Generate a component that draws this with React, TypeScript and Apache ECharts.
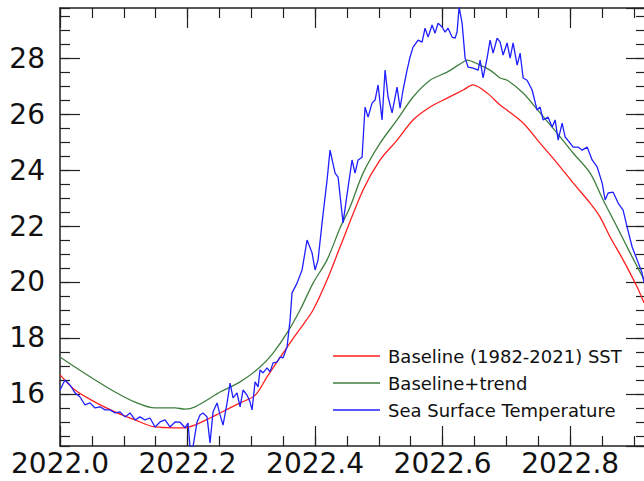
import React, { useEffect, useRef } from "react";
import * as echarts from "echarts";

// [decimal year, temperature °C]
const baselinePoints: [number, number][] = [
  [2022.0, 16.68], [2022.0235, 16.14], [2022.0549, 15.71], [2022.0863, 15.36],
  [2022.1176, 15.07], [2022.149, 14.82], [2022.1804, 14.79], [2022.1961, 14.79],
  [2022.2118, 14.89], [2022.2353, 15.14], [2022.251, 15.32], [2022.2824, 15.68],
  [2022.3059, 15.95], [2022.3247, 16.61], [2022.3498, 17.46], [2022.3718, 18.18],
  [2022.3969, 19.0], [2022.4188, 20.07], [2022.4392, 21.25], [2022.4753, 23.29],
  [2022.502, 24.36], [2022.5286, 25.07], [2022.5537, 25.79], [2022.5804, 26.25],
  [2022.6071, 26.57], [2022.6322, 26.86], [2022.6478, 27.04], [2022.6698, 26.75],
  [2022.6902, 26.32], [2022.7012, 26.14], [2022.7263, 25.68], [2022.7529, 24.96],
  [2022.7796, 24.25], [2022.8047, 23.54], [2022.8314, 22.82], [2022.8471, 22.32],
  [2022.8627, 21.61], [2022.8831, 20.79], [2022.9051, 19.82], [2022.9161, 19.25],
];

const trendPoints: [number, number][] = [
  [2022.0, 17.32], [2022.0235, 16.96], [2022.0549, 16.5], [2022.0863, 16.07],
  [2022.1176, 15.71], [2022.149, 15.5], [2022.1804, 15.5], [2022.1961, 15.46],
  [2022.2118, 15.54], [2022.2431, 15.96], [2022.251, 16.07], [2022.2824, 16.43],
  [2022.3137, 16.96], [2022.3341, 17.46], [2022.3561, 18.18], [2022.3765, 19.0],
  [2022.3969, 19.96], [2022.4188, 20.79], [2022.4392, 21.93], [2022.4549, 22.68],
  [2022.4753, 23.89], [2022.502, 24.96], [2022.5286, 25.79], [2022.5537, 26.61],
  [2022.5804, 27.21], [2022.6071, 27.5], [2022.6322, 27.86], [2022.6384, 27.93],
  [2022.6588, 27.75], [2022.6745, 27.57], [2022.6902, 27.29], [2022.7012, 27.21],
  [2022.7263, 26.75], [2022.7529, 26.04], [2022.7796, 25.32], [2022.8047, 24.61],
  [2022.8314, 23.89], [2022.8518, 22.93], [2022.8737, 21.96], [2022.8941, 21.04],
  [2022.9161, 20.07],
];

const sstPoints: [number, number][] = [
  [2022.0, 16.14], [2022.0078, 16.5], [2022.0157, 16.32], [2022.0235, 16.04],
  [2022.0314, 15.89], [2022.0392, 15.61], [2022.0471, 15.68], [2022.0549, 15.5],
  [2022.0627, 15.54], [2022.0706, 15.43], [2022.0784, 15.43], [2022.0863, 15.32],
  [2022.0941, 15.36], [2022.102, 15.18], [2022.1098, 15.32], [2022.1176, 15.07],
  [2022.1255, 15.18], [2022.1333, 15.07], [2022.1412, 15.14], [2022.149, 14.82],
  [2022.1569, 15.0], [2022.1647, 15.07], [2022.1725, 14.82], [2022.1804, 15.0],
  [2022.1882, 14.99], [2022.1961, 14.79], [2022.2008, 14.96], [2022.2039, 14.11],
  [2022.2086, 14.11], [2022.2149, 15.0], [2022.2196, 15.25], [2022.2243, 15.32],
  [2022.2306, 15.18], [2022.2353, 14.25], [2022.24, 15.36], [2022.2463, 15.68],
  [2022.251, 15.25], [2022.2557, 14.89], [2022.262, 15.68], [2022.2667, 16.39],
  [2022.2714, 15.86], [2022.2776, 16.04], [2022.2824, 15.54], [2022.2871, 16.14],
  [2022.2933, 15.96], [2022.298, 15.71], [2022.3012, 15.43], [2022.3059, 16.43],
  [2022.3106, 16.25], [2022.3137, 16.86], [2022.3184, 16.75], [2022.3247, 16.93],
  [2022.3294, 16.79], [2022.3341, 17.11], [2022.3404, 17.14], [2022.3451, 17.32],
  [2022.3498, 17.29], [2022.3561, 17.68], [2022.3608, 18.64], [2022.3639, 19.61],
  [2022.3718, 19.96], [2022.3796, 20.43], [2022.3875, 21.5], [2022.3953, 21.04],
  [2022.4, 20.43], [2022.4047, 20.79], [2022.411, 22.11], [2022.4188, 23.64],
  [2022.4235, 24.71], [2022.4314, 23.89], [2022.4361, 23.75], [2022.4439, 22.11],
  [2022.4518, 23.39], [2022.458, 24.36], [2022.4627, 23.89], [2022.4675, 24.36],
  [2022.4737, 24.46], [2022.4784, 26.25], [2022.4831, 25.89], [2022.4894, 26.39],
  [2022.4941, 26.5], [2022.4988, 27.04], [2022.5051, 25.79], [2022.5098, 27.57],
  [2022.5145, 26.61], [2022.5208, 26.04], [2022.5286, 26.96], [2022.5333, 26.21],
  [2022.538, 26.86], [2022.5443, 27.57], [2022.549, 28.04], [2022.5537, 28.39],
  [2022.5616, 28.64], [2022.5678, 28.57], [2022.5725, 29.07], [2022.5773, 28.75],
  [2022.5835, 29.18], [2022.5882, 28.89], [2022.5929, 29.25], [2022.5992, 29.11],
  [2022.6039, 28.93], [2022.6086, 29.07], [2022.6149, 28.75], [2022.6196, 28.71],
  [2022.6227, 28.93], [2022.6259, 29.82], [2022.6306, 29.25], [2022.6353, 28.0],
  [2022.64, 27.68], [2022.6478, 27.64], [2022.6557, 27.57], [2022.6588, 27.93],
  [2022.6635, 27.29], [2022.6698, 28.0], [2022.6745, 28.64], [2022.6792, 28.18],
  [2022.6855, 28.71], [2022.6902, 28.57], [2022.6949, 28.11], [2022.7012, 28.54],
  [2022.7059, 28.0], [2022.7106, 28.54], [2022.7169, 27.75], [2022.7216, 28.18],
  [2022.7263, 27.29], [2022.7325, 27.21], [2022.7404, 26.86], [2022.7482, 26.14],
  [2022.7529, 26.25], [2022.7576, 25.79], [2022.7655, 25.89], [2022.7718, 25.54],
  [2022.7765, 25.79], [2022.7812, 25.07], [2022.7875, 25.68], [2022.7922, 25.18],
  [2022.8, 24.96], [2022.8047, 24.82], [2022.8125, 24.82], [2022.8188, 24.71],
  [2022.8267, 24.82], [2022.8345, 24.36], [2022.8424, 24.11], [2022.8502, 23.54],
  [2022.8549, 22.93], [2022.8596, 23.18], [2022.8675, 23.21], [2022.8753, 22.82],
  [2022.8831, 22.57], [2022.8894, 21.96], [2022.8973, 21.25], [2022.9051, 20.79],
  [2022.9129, 20.32], [2022.9161, 19.96],
];

const seriesNames = [
  "Baseline (1982-2021) SST",
  "Baseline+trend",
  "Sea Surface Temperature",
];
const seriesColors = ["#ff1f1f", "#3f7f3f", "#1f1fff"];
const seriesSmooth = [0.3, 0.3, 0];

const X_MIN = 2022.0;
const X_MAX = 2022.919;
const Y_MIN = 14.14;
const Y_MAX = 29.79;

const FONT = "DejaVu Sans";
const AXIS_COLOR = "#222";

export default function App() {
  const ref = useRef<HTMLDivElement>(null);

  useEffect(() => {
    if (!ref.current) return;
    const chart = echarts.init(ref.current, undefined, { renderer: "svg" });

    const xAxisBase = (position: "top" | "bottom", step: number, major: boolean, labels: boolean) => ({
      type: "value",
      position,
      min: X_MIN,
      max: X_MAX,
      minInterval: step,
      maxInterval: step,
      splitNumber: 5,
      splitLine: { show: false },
      axisLine: { show: major, onZero: false, lineStyle: { color: AXIS_COLOR, width: 1.5 } },
      axisTick: { show: true, inside: true, length: major ? 20 : 10, lineStyle: { color: AXIS_COLOR, width: 1.2 } },
      axisLabel: {
        show: labels,
        showMaxLabel: false,
        fontFamily: FONT,
        fontSize: 28,
        color: "#111",
        margin: 3,
        formatter: (v: number) => v.toFixed(1),
      },
    });

    const yAxisBase = (position: "left" | "right", step: number, major: boolean, labels: boolean) => ({
      type: "value",
      position,
      min: Y_MIN,
      max: Y_MAX,
      minInterval: step,
      maxInterval: step,
      splitNumber: 8,
      splitLine: { show: false },
      axisLine: { show: major, onZero: false, lineStyle: { color: AXIS_COLOR, width: 1.5 } },
      axisTick: { show: true, inside: true, length: major ? 20 : 10, lineStyle: { color: AXIS_COLOR, width: 1.2 } },
      axisLabel: {
        show: labels,
        showMinLabel: false,
        showMaxLabel: false,
        fontFamily: FONT,
        fontSize: 28,
        color: "#111",
        margin: 15,
        formatter: (v: number) => (Math.abs(v - Math.round(v)) < 0.01 ? String(Math.round(v)) : ""),
      },
    });

    const pointSets = [baselinePoints, trendPoints, sstPoints];

    chart.setOption({
      animation: false,
      backgroundColor: "#fff",
      grid: { left: 60, top: 8, right: 2, bottom: 35, containLabel: false },
      xAxis: [
        xAxisBase("bottom", 0.2, true, true),
        xAxisBase("bottom", 0.05, false, false),
        xAxisBase("top", 0.2, true, false),
        xAxisBase("top", 0.05, false, false),
      ],
      yAxis: [
        yAxisBase("left", 2, true, true),
        yAxisBase("left", 0.5, false, false),
        yAxisBase("right", 2, true, false),
        yAxisBase("right", 0.5, false, false),
      ],
      legend: {
        orient: "vertical",
        left: 328,
        top: 342,
        icon: "rect",
        itemWidth: 47,
        itemHeight: 1.5,
        itemGap: 9,
        textStyle: {
          fontFamily: FONT,
          fontSize: 18,
          lineHeight: 18,
          color: "#111",
          padding: [0, 0, 0, 3],
        },
        data: seriesNames.map((name, i) => ({ name, itemStyle: { color: seriesColors[i] } })),
      },
      series: seriesNames.map((name, i) => ({
        name,
        type: "line",
        xAxisIndex: 0,
        yAxisIndex: 0,
        data: pointSets[i],
        showSymbol: false,
        symbol: "none",
        smooth: seriesSmooth[i],
        color: seriesColors[i],
        lineStyle: { color: seriesColors[i], width: 1.3 },
        z: 2 + i,
      })),
    });

    return () => chart.dispose();
  }, []);

  return (
    <div style={{ position: "fixed", left: 0, top: 0, width: 644, height: 481, overflow: "hidden", background: "#fff" }}>
      <div ref={ref} style={{ width: 648, height: 481 }} />
    </div>
  );
}
